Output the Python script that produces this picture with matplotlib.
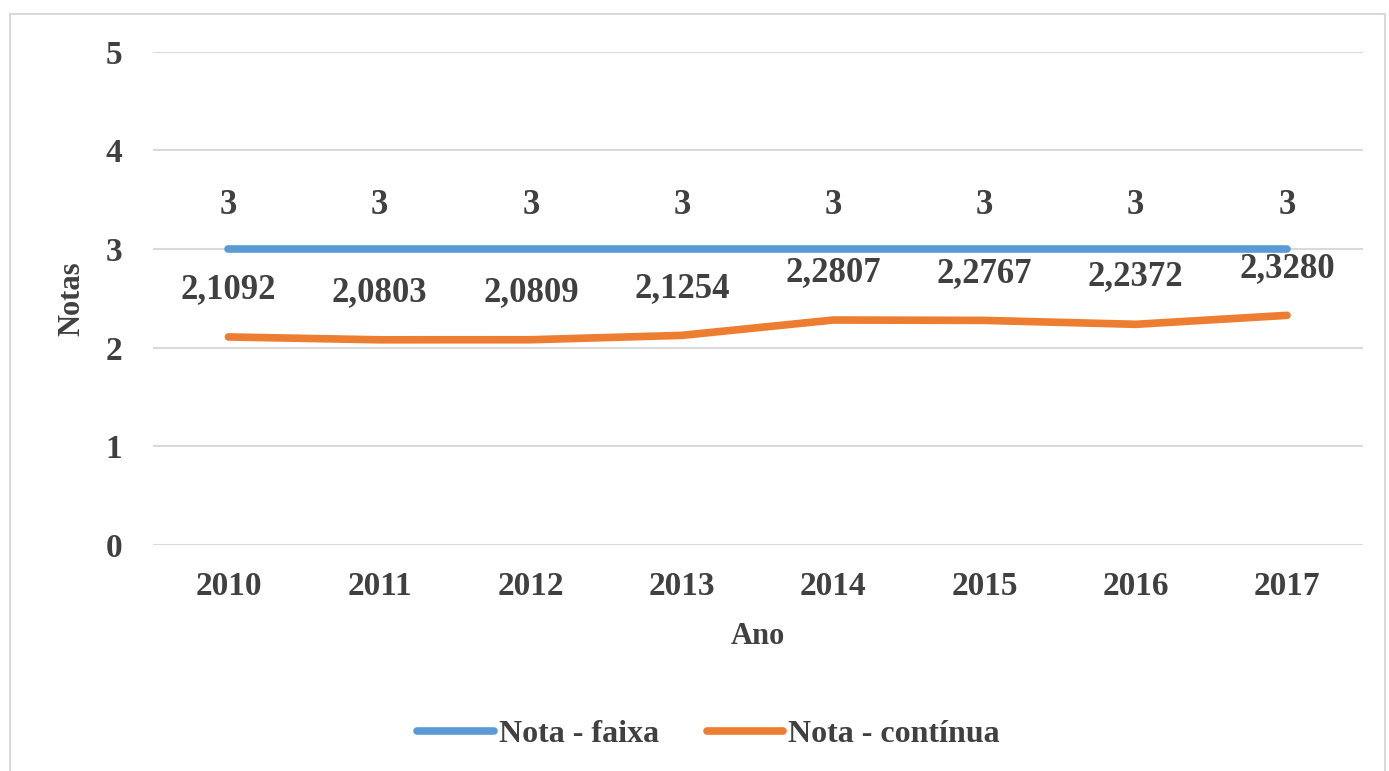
import matplotlib
matplotlib.use("Agg")
import matplotlib.pyplot as plt
from matplotlib.patches import Rectangle

plt.rcParams['font.family'] = ['Liberation Serif', 'DejaVu Serif']

anos = ['2010', '2011', '2012', '2013', '2014', '2015', '2016', '2017']
nota_faixa = [3, 3, 3, 3, 3, 3, 3, 3]
nota_continua = [2.1092, 2.0803, 2.0809, 2.1254, 2.2807, 2.2767, 2.2372, 2.3280]
rotulos_faixa = ['3'] * 8
rotulos_continua = ['2,1092', '2,0803', '2,0809', '2,1254', '2,2807', '2,2767', '2,2372', '2,3280']

azul = '#5B9BD5'
laranja = '#ED7D31'
texto = '#404040'

fig = plt.figure(figsize=(13.89, 7.71), dpi=100)
ax = fig.add_axes([0.110, 0.293, 0.871, 0.640])

x = list(range(len(anos)))
ax.plot(x, nota_faixa, color=azul, lw=5.5, solid_capstyle='round', label='Nota - faixa', zorder=3)
ax.plot(x, nota_continua, color=laranja, lw=5.5, solid_capstyle='round', label='Nota - contínua', zorder=3)

for xi, v, t in zip(x, nota_faixa, rotulos_faixa):
    ax.annotate(t, (xi, v), xytext=(0, 31), textcoords='offset points', ha='center', va='center',
                fontsize=25, fontweight='bold', color=texto)
for xi, v, t in zip(x, nota_continua, rotulos_continua):
    ax.annotate(t, (xi, v), xytext=(0, 34), textcoords='offset points', ha='center', va='center',
                fontsize=25, fontweight='bold', color=texto)

ax.set_xlim(-0.5, 7.5)
ax.set_ylim(0, 5)
ax.set_yticks([0, 1, 2, 3, 4, 5])
ax.set_xticks(x)
ax.set_xticklabels(anos)
ax.tick_params(length=0, labelsize=24, labelcolor=texto)
ax.tick_params(axis='x', pad=19)
ax.tick_params(axis='y', pad=22)
for lab in ax.get_xticklabels() + ax.get_yticklabels():
    lab.set_fontweight('bold')
ax.grid(axis='y', color='#D9D9D9', lw=1.5)
ax.set_axisbelow(True)
for s in ax.spines.values():
    s.set_visible(False)

ax.set_xlabel('Ano', fontsize=22, fontweight='bold', color=texto, labelpad=14)
ax.set_ylabel('Notas', fontsize=22, fontweight='bold', color=texto, labelpad=14)

leg = fig.legend(loc='center', bbox_to_anchor=(0.510, 0.047), ncol=2, frameon=False,
                 prop={'size': 23, 'weight': 'bold'}, handlelength=2.4, handletextpad=0.15,
                 columnspacing=1.5)
for t in leg.get_texts():
    t.set_color(texto)

fig.patches.append(Rectangle((10 / 1389, -0.01), 1375 / 1389, 1 - 14 / 771 + 0.01,
                             transform=fig.transFigure, fill=False, edgecolor='#D9D9D9', lw=1.5))

fig.savefig('out.png', dpi=100)
